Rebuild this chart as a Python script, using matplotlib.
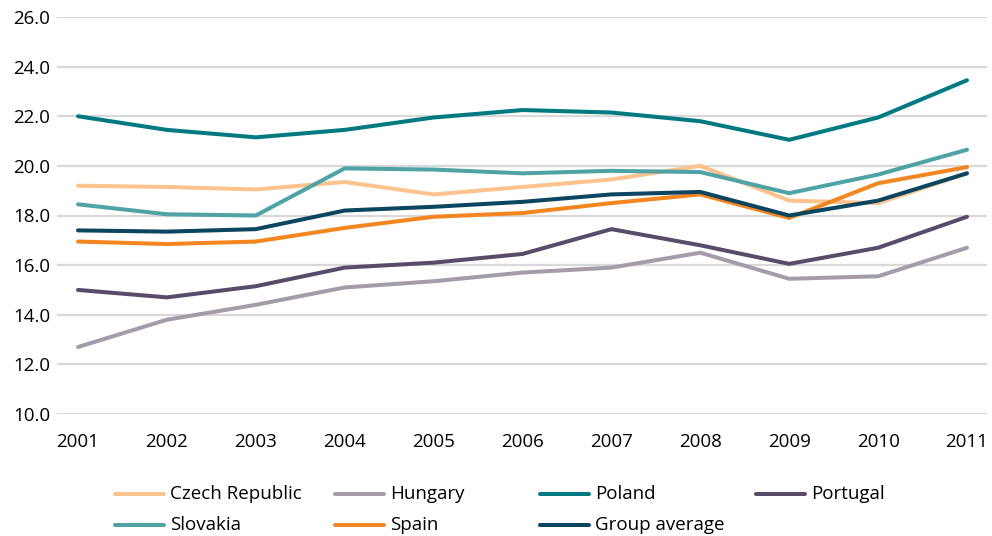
import matplotlib.pyplot as plt
from matplotlib.lines import Line2D

plt.rcParams['font.family'] = ['Open Sans', 'DejaVu Sans']

years = [2001, 2002, 2003, 2004, 2005, 2006, 2007, 2008, 2009, 2010, 2011]

czech = [19.2, 19.15, 19.05, 19.35, 18.85, 19.15, 19.45, 20.0, 18.6, 18.5, 19.7]
hungary = [12.7, 13.8, 14.4, 15.1, 15.35, 15.7, 15.9, 16.5, 15.45, 15.55, 16.7]
poland = [22.0, 21.45, 21.15, 21.45, 21.95, 22.25, 22.15, 21.8, 21.05, 21.95, 23.45]
portugal = [15.0, 14.7, 15.15, 15.9, 16.1, 16.45, 17.45, 16.8, 16.05, 16.7, 17.95]
slovakia = [18.45, 18.05, 18.0, 19.9, 19.85, 19.7, 19.8, 19.75, 18.9, 19.65, 20.65]
spain = [16.95, 16.85, 16.95, 17.5, 17.95, 18.1, 18.5, 18.85, 17.9, 19.3, 19.95]
group_avg = [17.4, 17.35, 17.45, 18.2, 18.35, 18.55, 18.85, 18.95, 18.0, 18.6, 19.7]

series = [
    ('Czech Republic', czech, '#FDC38F'),
    ('Hungary', hungary, '#A59CAA'),
    ('Poland', poland, '#007A80'),
    ('Portugal', portugal, '#584C68'),
    ('Slovakia', slovakia, '#4FA3A5'),
    ('Spain', spain, '#F28620'),
    ('Group average', group_avg, '#0B4560'),
]

W, H = 992, 536
fig = plt.figure(figsize=(W/100, H/100), dpi=100)
ax = fig.add_axes([57/W, 1 - 414/H, 930/W, 397/H])

for name, vals, col in series:
    ax.plot(years, vals, color=col, linewidth=2.9, solid_capstyle='round')

ax.set_ylim(10, 26)
ax.set_yticks(range(10, 27, 2))
ax.set_yticklabels([f'{v:.1f}' for v in range(10, 27, 2)])
ax.set_xlim(2001 - 21/88.9, 2011 + 20/88.9)
ax.set_xticks(years)
ax.set_xticklabels([str(y) for y in years])
ax.grid(axis='y', color='#D9D9D9', linewidth=1.6)
ax.set_axisbelow(True)
for s in ax.spines.values():
    s.set_visible(False)
ax.tick_params(length=0, labelsize=13.5, colors='#000000')
ax.tick_params(axis='x', pad=14)
ax.tick_params(axis='y', pad=5)

# legend drawn by hand: two rows, fixed column positions (pixels)
col_x = [115, 335, 540, 756]
row_y = [494, 525]
for i, (name, vals, col) in enumerate(series):
    r, c = divmod(i, 4)
    x0 = col_x[c]
    y = 1 - row_y[r]/H
    fig.add_artist(Line2D([x0/W, (x0 + 49)/W], [y, y], color=col, linewidth=2.9,
                          solid_capstyle='round'))
    fig.text((x0 + 55)/W, y, name, fontsize=13.5, va='center', ha='left')

fig.savefig('out.png', dpi=100)
